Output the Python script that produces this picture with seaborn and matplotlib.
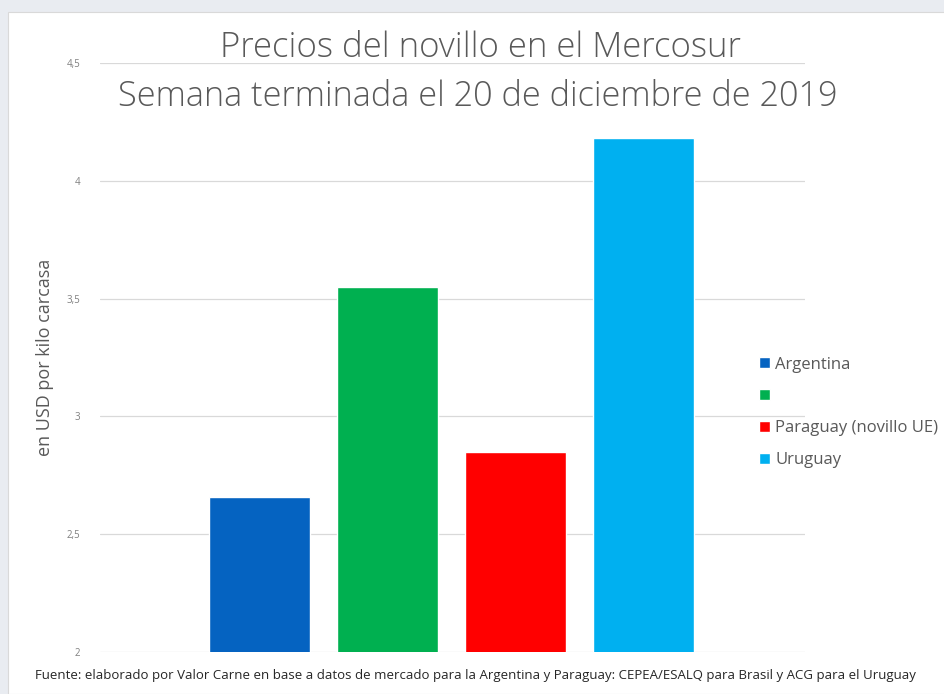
import numpy as np
import pandas as pd
import matplotlib
matplotlib.use("Agg")
import matplotlib.pyplot as plt
import seaborn as sns
from matplotlib.patches import Rectangle, Patch
from matplotlib.ticker import FuncFormatter

# data
paises = ["Argentina", "Brasil", "Paraguay (novillo UE)", "Uruguay"]
leyenda = ["Argentina", "", "Paraguay (novillo UE)", "Uruguay"]
precios = [2.66, 3.55, 2.85, 4.18]
colores = ["#0563c1", "#00b050", "#ff0000", "#00b0f0"]
yticks = [2, 2.5, 3, 3.5, 4, 4.5]

df = pd.DataFrame({"pais": paises, "precio": precios})

sns.set_style("white")
plt.rcParams["font.family"] = ["Open Sans", "DejaVu Sans"]

fig = plt.figure(figsize=(9.44, 6.94), dpi=100)
fig.patch.set_facecolor("#e9ecf1")
# white chart panel
fig.patches.append(Rectangle((8 / 944, 0), 1, 1 - 12 / 694, transform=fig.transFigure,
                             facecolor="white", edgecolor="#d9d9d9", lw=0.8, zorder=-5))

ax = fig.add_axes([100 / 944, 1 - 652 / 694, 705 / 944, (652 - 63) / 694])
ax.set_facecolor("none")

sns.barplot(data=df, x="pais", y="precio", hue="pais", palette=colores,
            width=0.79, saturation=1, legend=False, ax=ax, zorder=3)

ax.set_ylim(2, 4.5)
ax.set_xlim(-1.25, 4.26)
ax.set_yticks(yticks)
ax.yaxis.set_major_formatter(FuncFormatter(lambda v, p: ("%g" % v).replace(".", ",")))
ax.tick_params(axis="y", labelsize=7, colors="#808080", length=0, pad=14)
ax.set_xticks([])
ax.set_xlabel("")
ax.grid(axis="y", color="#d9d9d9", lw=0.9, zorder=0)
ax.set_axisbelow(True)
for s in ax.spines.values():
    s.set_visible(False)

ax.set_ylabel("en USD por kilo carcasa", fontsize=13, color="#595959", labelpad=9)

fig.text(480 / 944, 1 - 57 / 694, "Precios del novillo en el Mercosur",
         fontsize=25, color="#595959", ha="center", va="baseline", fontweight="light")
fig.text(478 / 944, 1 - 106 / 694, "Semana terminada el 20 de diciembre de 2019",
         fontsize=24.7, color="#595959", ha="center", va="baseline", fontweight="light")

handles = [Patch(facecolor=c) for c in colores]
ax.legend(handles, leyenda, loc="upper left", bbox_to_anchor=(752 / 944, 1 - 350 / 694),
          bbox_transform=fig.transFigure, frameon=False, fontsize=12,
          labelcolor="#595959", handlelength=0.65, handleheight=0.65,
          handletextpad=0.35, labelspacing=0.95, borderaxespad=0)

fig.text(475 / 944, 1 - 676 / 694,
         "Fuente: elaborado por Valor Carne en base a datos de mercado para la Argentina y Paraguay: "
         "CEPEA/ESALQ para Brasil y ACG para el Uruguay",
         fontsize=9.5, color="#262626", ha="center", va="center")

fig.savefig("out.png", dpi=100, facecolor=fig.get_facecolor())
